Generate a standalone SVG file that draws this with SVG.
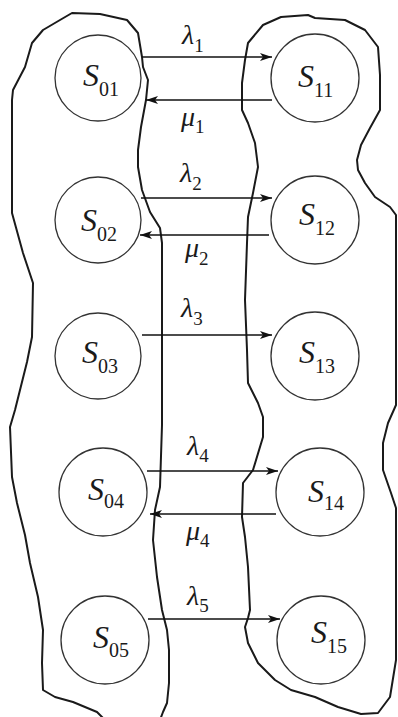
<svg xmlns="http://www.w3.org/2000/svg" width="398" height="717" viewBox="0 0 398 717">
<style>
.bg{fill:#ffffff}
.blob{fill:none;stroke:#1a1a1a;stroke-width:2;stroke-linejoin:round}
.node circle{fill:none;stroke:#333333;stroke-width:1.3}
.conn{stroke:#111111;stroke-width:1.3;fill:none}
text{font-family:"Liberation Serif","Times New Roman","DejaVu Serif",serif;fill:#1a1a1a}
.it{font-style:italic}
.sub{font-style:normal}
.S{font-size:32px}
.Ssub{font-size:20px}
.G{font-size:28px}
.Gsub{font-size:19px}
</style>
<defs>
<marker id="ah" viewBox="0 0 12 8" refX="12" refY="4" markerWidth="12" markerHeight="8" markerUnits="userSpaceOnUse" orient="auto">
<path d="M0,0 L12,4 L0,8 L3,4 Z" fill="#111111"/>
</marker>
</defs>
<rect class="bg" x="0" y="0" width="398" height="717"/>

<g id="regions">
<path id="region-left" class="blob" d="M72,13 L100,14 L127,20 L138,33 L142,57 L143,67 L148,80 L146,100 L141,127 L138,150 L138,167 L142,190 L150,212 L160,228 L162,243 L162,425 L160,487 L155,510 L153,540 L157,577 L162,610 L167,630 L169,650 L169,683 L167,703 L163,712 L160,720 L105,720 L97,712 L73,702 L55,697 L43,690 L42,663 L43,630 L38,597 L30,563 L25,535 L17,503 L12,477 L10,427 L15,410 L27,362 L32,337 L33,283 L23,253 L12,213 L12,100 L13,90 L25,67 L32,43 L43,30 L60,20 Z"/>
<path id="region-right" class="blob" d="M248,43 L263,25 L281,17 L308,15 L315,18 L345,20 L365,30 L378,47 L380,75 L380,110 L370,128 L361,145 L357,160 L358,170 L365,183 L375,197 L390,207 L396,215 L396,405 L388,423 L383,443 L383,470 L391,493 L396,508 L396,660 L390,697 L378,713 L361,714 L338,707 L315,697 L291,690 L275,680 L258,663 L248,643 L245,627 L248,618 L250,610 L248,567 L245,537 L242,517 L243,483 L253,470 L263,437 L263,417 L258,403 L248,383 L247,350 L245,300 L247,243 L248,217 L253,193 L258,167 L255,143 L248,123 L242,110 L242,83 L245,60 Z"/>
</g>

<g id="connectors">
<g id="lambda1"><line class="conn" x1="142" y1="57" x2="272" y2="57" marker-end="url(#ah)"/>
<text x="182" y="44"><tspan class="it G">λ</tspan><tspan class="sub Gsub" dy="8">1</tspan></text></g>
<g id="mu1"><line class="conn" x1="272" y1="100" x2="146" y2="100" marker-end="url(#ah)"/>
<text x="181" y="126"><tspan class="it G">μ</tspan><tspan class="sub Gsub" dy="7">1</tspan></text></g>
<g id="lambda2"><line class="conn" x1="141" y1="198" x2="272" y2="198" marker-end="url(#ah)"/>
<text x="180" y="182"><tspan class="it G">λ</tspan><tspan class="sub Gsub" dy="8">2</tspan></text></g>
<g id="mu2"><line class="conn" x1="269" y1="235" x2="140" y2="235" marker-end="url(#ah)"/>
<text x="185" y="257"><tspan class="it G">μ</tspan><tspan class="sub Gsub" dy="8">2</tspan></text></g>
<g id="lambda3"><line class="conn" x1="142" y1="335" x2="272" y2="335" marker-end="url(#ah)"/>
<text x="181" y="317"><tspan class="it G">λ</tspan><tspan class="sub Gsub" dy="8">3</tspan></text></g>
<g id="lambda4"><line class="conn" x1="147" y1="471" x2="278" y2="471" marker-end="url(#ah)"/>
<text x="187" y="455"><tspan class="it G">λ</tspan><tspan class="sub Gsub" dy="7">4</tspan></text></g>
<g id="mu4"><line class="conn" x1="276" y1="514" x2="150" y2="514" marker-end="url(#ah)"/>
<text x="186" y="540"><tspan class="it G">μ</tspan><tspan class="sub Gsub" dy="7">4</tspan></text></g>
<g id="lambda5"><line class="conn" x1="148" y1="619" x2="280" y2="619" marker-end="url(#ah)"/>
<text x="187" y="605"><tspan class="it G">λ</tspan><tspan class="sub Gsub" dy="7">5</tspan></text></g>
</g>

<g id="S01" class="node"><circle cx="98" cy="78" r="43"/><text x="83" y="86"><tspan class="it S">S</tspan><tspan class="sub Ssub" dy="10">01</tspan></text></g>
<g id="S02" class="node"><circle cx="98" cy="220" r="43"/><text x="81" y="231"><tspan class="it S">S</tspan><tspan class="sub Ssub" dy="10">02</tspan></text></g>
<g id="S03" class="node"><circle cx="98" cy="356" r="43"/><text x="82" y="363"><tspan class="it S">S</tspan><tspan class="sub Ssub" dy="10">03</tspan></text></g>
<g id="S04" class="node"><circle cx="103" cy="492" r="44"/><text x="88" y="500"><tspan class="it S">S</tspan><tspan class="sub Ssub" dy="8">04</tspan></text></g>
<g id="S05" class="node"><circle cx="105" cy="640" r="44"/><text x="93" y="648"><tspan class="it S">S</tspan><tspan class="sub Ssub" dy="9">05</tspan></text></g>
<g id="S11" class="node"><circle cx="315" cy="78" r="44"/><text x="298" y="87"><tspan class="it S">S</tspan><tspan class="sub Ssub" dy="10">11</tspan></text></g>
<g id="S12" class="node"><circle cx="315" cy="220" r="44"/><text x="299" y="225"><tspan class="it S">S</tspan><tspan class="sub Ssub" dy="10">12</tspan></text></g>
<g id="S13" class="node"><circle cx="315" cy="356" r="44"/><text x="299" y="363"><tspan class="it S">S</tspan><tspan class="sub Ssub" dy="10">13</tspan></text></g>
<g id="S14" class="node"><circle cx="320" cy="492" r="44"/><text x="308" y="502"><tspan class="it S">S</tspan><tspan class="sub Ssub" dy="8">14</tspan></text></g>
<g id="S15" class="node"><circle cx="321" cy="640" r="44"/><text x="311" y="643"><tspan class="it S">S</tspan><tspan class="sub Ssub" dy="10">15</tspan></text></g>
</svg>
